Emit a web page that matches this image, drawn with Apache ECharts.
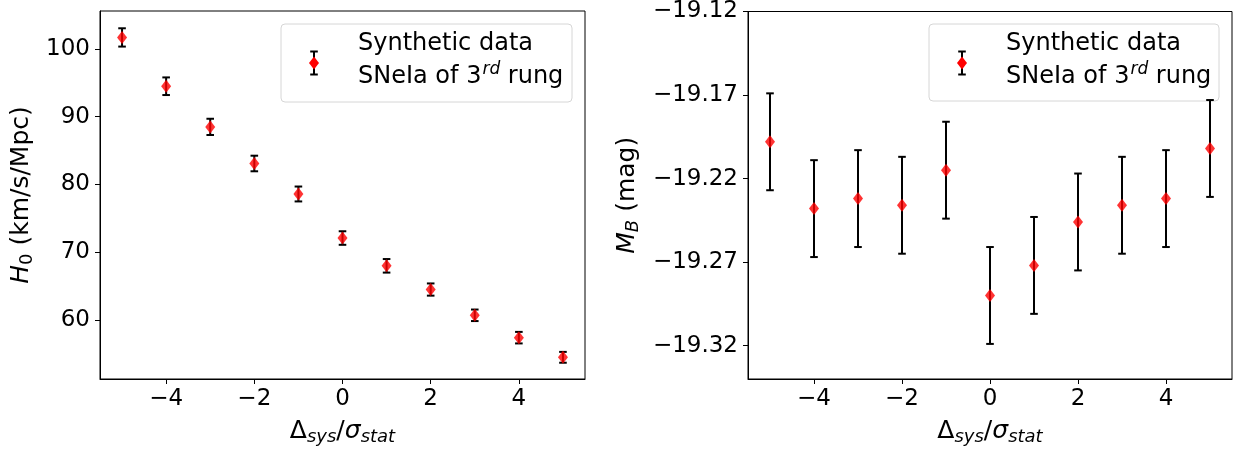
<!DOCTYPE html>
<html><head><meta charset="utf-8">
<script src="https://cdn.jsdelivr.net/npm/echarts@6/dist/echarts.min.js"></script>
<style>html,body{margin:0;padding:0;background:#fff}#c{width:1242px;height:451px}</style>
</head><body><div id="c"></div>
<script>
// ---- data ----
const xVals = [-5, -4, -3, -2, -1, 0, 1, 2, 3, 4, 5];
const h0Vals = [101.7, 94.5, 88.5, 83.1, 78.6, 72.1, 68.0, 64.5, 60.7, 57.4, 54.5];
const h0Errs = [1.35, 1.3, 1.2, 1.15, 1.1, 1.0, 1.0, 0.9, 0.85, 0.85, 0.8];
const mbVals = [-19.198, -19.238, -19.232, -19.236, -19.215, -19.290, -19.272, -19.246, -19.236, -19.232, -19.202];
const mbErrs = [0.029, 0.029, 0.029, 0.029, 0.029, 0.029, 0.029, 0.029, 0.029, 0.029, 0.029];
const xTicks = [-4, -2, 0, 2, 4];
const h0Ticks = [60, 70, 80, 90, 100];
const mbTicks = [-19.32, -19.27, -19.22, -19.17, -19.12];
const legendLine1 = 'Synthetic data';
const legendLine2 = ['SNeIa of 3', 'rd', ' rung'];

// ---- chart ----
const FONT = 'DejaVu Sans';
const chart = echarts.init(document.getElementById('c'), null, {renderer: 'canvas'});
const minus = s => s.replace('-', '\u2212');

function errRender(params, api) {
  const x = api.value(0), lo = api.value(1), hi = api.value(2);
  const a = api.coord([x, lo]), b = api.coord([x, hi]);
  const cap = 3.8;
  const style = {stroke: '#000', lineWidth: 2};
  return {type: 'group', children: [
    {type: 'line', shape: {x1: a[0], y1: a[1], x2: b[0], y2: b[1]}, style},
    {type: 'line', shape: {x1: a[0] - cap, y1: a[1], x2: a[0] + cap, y2: a[1]}, style},
    {type: 'line', shape: {x1: b[0] - cap, y1: b[1], x2: b[0] + cap, y2: b[1]}, style}
  ]};
}

const richName = {
  n: {fontFamily: FONT, fontSize: 25, color: '#000'},
  i: {fontFamily: FONT, fontSize: 25, fontStyle: 'italic', color: '#000'},
  sub: {fontFamily: FONT, fontSize: 18, color: '#000', padding: [11, 0, 0, 0]},
  isub: {fontFamily: FONT, fontSize: 18, fontStyle: 'italic', color: '#000', padding: [11, 0, 0, 0]}
};

function xAxisCfg(gi) {
  return {
    type: 'value', gridIndex: gi, min: -5.5, max: 5.5,
    name: '{n|\u0394}{isub|sys}{n|/}{i|\u03C3}{isub|stat}',
    nameLocation: 'middle', nameGap: 38,
    nameTextStyle: {rich: richName},
    axisLine: {show: true, onZero: false, lineStyle: {color: '#000', width: 1}},
    axisTick: {show: true, customValues: xTicks, length: 5, lineStyle: {color: '#000', width: 1}},
    axisLabel: {customValues: xTicks, fontFamily: FONT, fontSize: 23, color: '#000', margin: 9,
      formatter: v => minus(String(v))},
    splitLine: {show: false}
  };
}

const option = {
  animation: false,
  backgroundColor: '#fff',
  grid: [
    {left: 100, top: 11, width: 485, height: 370, show: true, borderColor: '#000', borderWidth: 1, containLabel: false},
    {left: 748, top: 11, width: 484, height: 370, show: true, borderColor: '#000', borderWidth: 1, containLabel: false}
  ],
  xAxis: [xAxisCfg(0), xAxisCfg(1)],
  yAxis: [
    {
      type: 'value', gridIndex: 0, min: 51.3, max: 105.6,
      name: '{i|H}{sub|0}{n| (km/s/Mpc)}', nameLocation: 'middle', nameGap: 64,
      nameTextStyle: {rich: richName},
      axisLine: {show: true, onZero: false, lineStyle: {color: '#000', width: 1}},
      axisTick: {show: true, customValues: h0Ticks, length: 5, lineStyle: {color: '#000', width: 1}},
      axisLabel: {customValues: h0Ticks, fontFamily: FONT, fontSize: 23, color: '#000', margin: 10},
      splitLine: {show: false}
    },
    {
      type: 'value', gridIndex: 1, min: -19.34, max: -19.12,
      name: '{i|M}{isub|B}{n| (mag)}', nameLocation: 'middle', nameGap: 106,
      nameTextStyle: {rich: richName},
      axisLine: {show: true, onZero: false, lineStyle: {color: '#000', width: 1}},
      axisTick: {show: true, customValues: mbTicks, length: 5, lineStyle: {color: '#000', width: 1}},
      axisLabel: {customValues: mbTicks, fontFamily: FONT, fontSize: 23, color: '#000', margin: 10,
        formatter: v => minus(v.toFixed(2))},
      splitLine: {show: false}
    }
  ],
  series: [
    {type: 'custom', xAxisIndex: 0, yAxisIndex: 0, renderItem: errRender, z: 2,
      encode: {x: 0, y: [1, 2]},
      data: xVals.map((x, i) => [x, h0Vals[i] - h0Errs[i], h0Vals[i] + h0Errs[i]])},
    {type: 'scatter', xAxisIndex: 0, yAxisIndex: 0, symbol: 'diamond', symbolSize: [10, 13], z: 3,
      itemStyle: {color: '#ff0000'},
      data: xVals.map((x, i) => [x, h0Vals[i]])},
    {type: 'custom', xAxisIndex: 1, yAxisIndex: 1, renderItem: errRender, z: 2,
      encode: {x: 0, y: [1, 2]},
      data: xVals.map((x, i) => [x, mbVals[i] - mbErrs[i], mbVals[i] + mbErrs[i]])},
    {type: 'scatter', xAxisIndex: 1, yAxisIndex: 1, symbol: 'diamond', symbolSize: [10, 13], z: 3,
      itemStyle: {color: '#ff0000'},
      data: xVals.map((x, i) => [x, mbVals[i]])}
  ],
  graphic: []
};

function legendGroup(bx, by, bw, bh, mx, tx) {
  const st = {stroke: '#000', lineWidth: 2};
  const my = by + 39;
  return {
    type: 'group', z: 100, children: [
      {type: 'rect', shape: {x: bx, y: by, width: bw, height: bh, r: 4},
        style: {fill: 'rgba(255,255,255,0.8)', stroke: '#d6d6d6', lineWidth: 1}},
      {type: 'line', shape: {x1: mx, y1: my - 11.5, x2: mx, y2: my + 11.5}, style: st},
      {type: 'line', shape: {x1: mx - 3.8, y1: my - 11.5, x2: mx + 3.8, y2: my - 11.5}, style: st},
      {type: 'line', shape: {x1: mx - 3.8, y1: my + 11.5, x2: mx + 3.8, y2: my + 11.5}, style: st},
      {type: 'polygon', shape: {points: [[mx, my - 6.5], [mx + 5, my], [mx, my + 6.5], [mx - 5, my]]},
        style: {fill: '#ff0000'}},
      {type: 'text', x: tx, y: by + 20, style: {text: legendLine1, font: '24px "DejaVu Sans"', fill: '#000',
        verticalAlign: 'middle', align: 'left'}},
      {type: 'text', x: tx, y: by + 53, style: {
        text: '{n|' + legendLine2[0] + '}{sup|' + legendLine2[1] + '}{n|' + legendLine2[2] + '}',
        verticalAlign: 'middle', align: 'left',
        rich: {
          n: {fontFamily: FONT, fontSize: 24, fill: '#000'},
          sup: {fontFamily: FONT, fontSize: 17, fontStyle: 'italic', fill: '#000', padding: [0, 0, 14, 1]}
        }}}
    ]
  };
}
option.graphic = [
  legendGroup(281, 24, 291, 78, 314, 358),
  legendGroup(929, 24, 290, 77, 962, 1006)
];

chart.setOption(option);
</script>
</body></html>
